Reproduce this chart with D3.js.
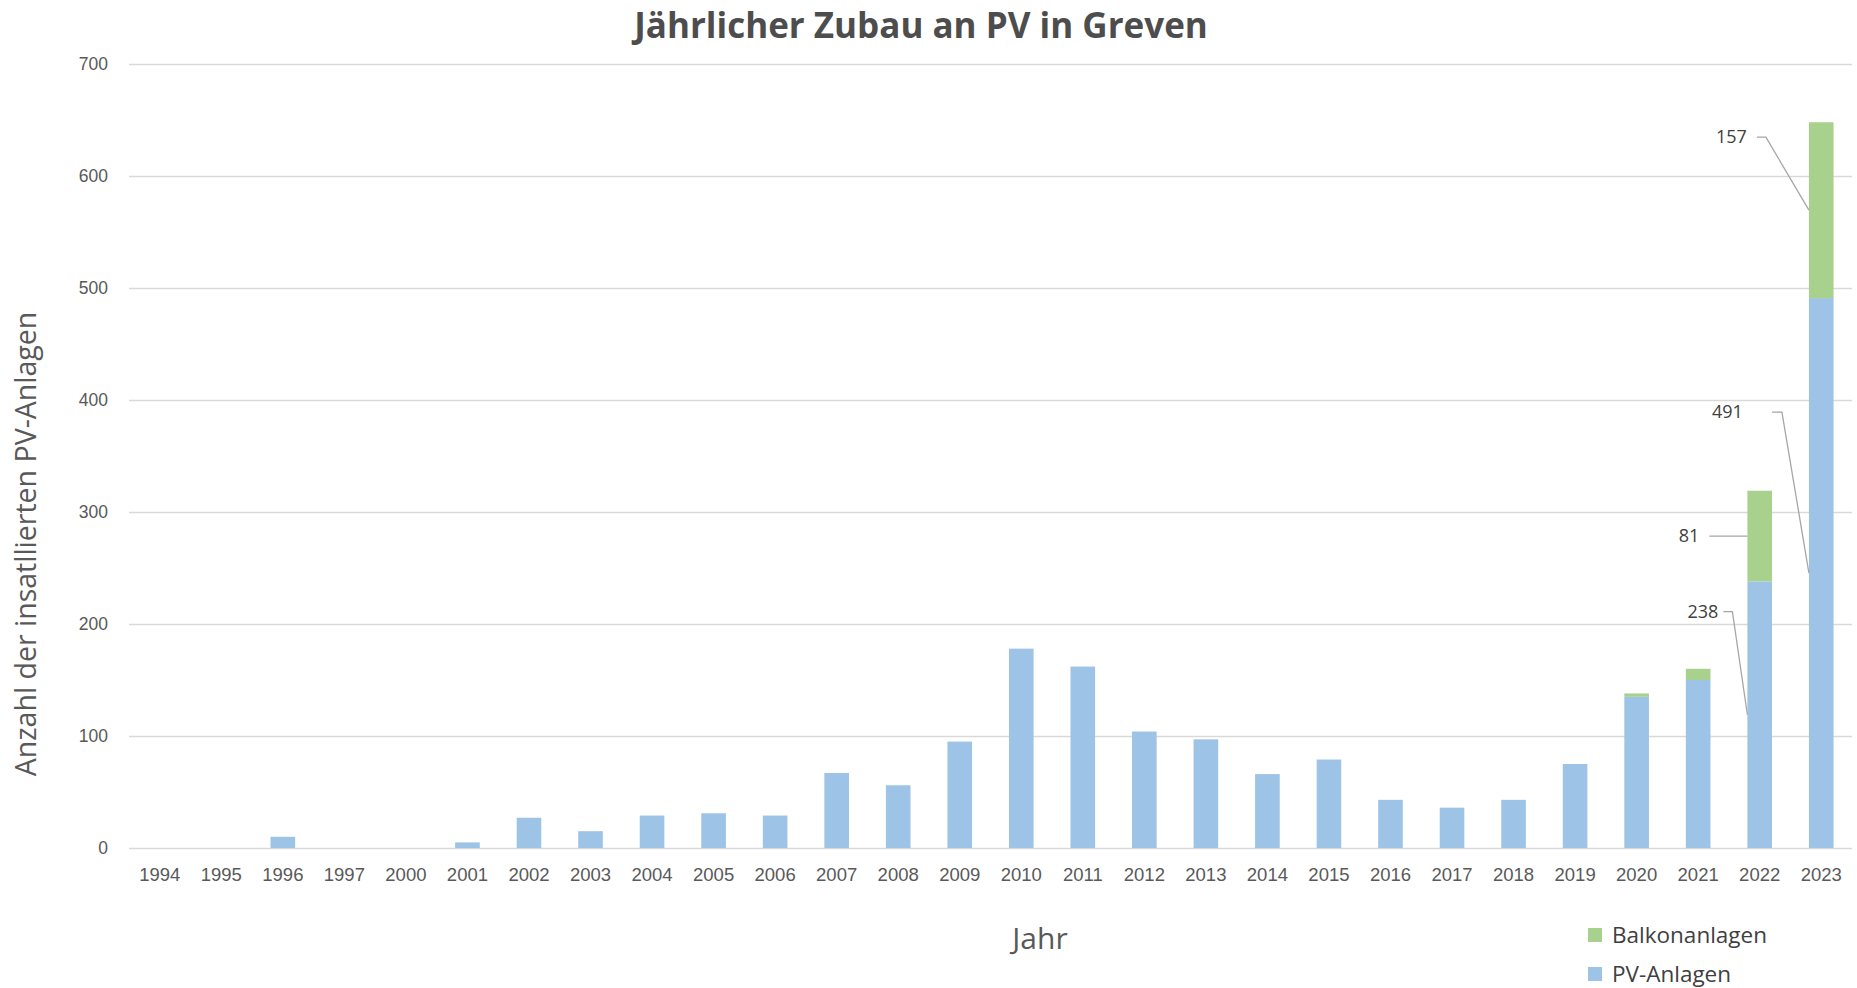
<!DOCTYPE html>
<html>
<head>
<meta charset="utf-8">
<script src="https://cdn.jsdelivr.net/npm/d3@7"></script>
<style>
  html, body { margin: 0; padding: 0; background: #fff; }
  svg { display: block; font-family: "Open Sans", sans-serif; }
  .grid line { stroke: #d9d9d9; stroke-width: 1.5; }
  .grid path { display: none; }
  .tick text { fill: #595959; }
</style>
</head>
<body>
<div id="chart"></div>
<script>
// Jahre (Kategorien)
var years = ["1994", "1995", "1996", "1997", "2000", "2001", "2002", "2003", "2004", "2005",
  "2006", "2007", "2008", "2009", "2010", "2011", "2012", "2013", "2014", "2015",
  "2016", "2017", "2018", "2019", "2020", "2021", "2022", "2023"];
var pvAnlagen = [0, 0, 10, 0, 0, 5, 27, 15, 29, 31,
  29, 67, 56, 95, 178, 162, 104, 97, 66, 79,
  43, 36, 43, 75, 135, 150, 238, 491];
var balkonanlagen = [0, 0, 0, 0, 0, 0, 0, 0, 0, 0,
  0, 0, 0, 0, 0, 0, 0, 0, 0, 0,
  0, 0, 0, 0, 3, 10, 81, 157];
var yTicks = [0, 100, 200, 300, 400, 500, 600, 700];
var labelledYears = ["2022", "2023"];

var W = 1857, H = 988;
var margin = {top: 64, right: 5, bottom: 140, left: 129};

var svg = d3.select("#chart").append("svg")
  .attr("width", W)
  .attr("height", H);

var x = d3.scaleBand()
  .domain(years)
  .range([margin.left, W - margin.right])
  .paddingInner(0.6)
  .paddingOuter(0.3);

var y = d3.scaleLinear()
  .domain([0, 700])
  .range([H - margin.bottom, margin.top]);

var series = [
  {key: "pv", name: "PV-Anlagen", values: pvAnlagen, color: "#9dc3e6"},
  {key: "balkon", name: "Balkonanlagen", values: balkonanlagen, color: "#a9d18e"}
];

var table = years.map(function (yr, i) {
  return {year: yr, pv: pvAnlagen[i], balkon: balkonanlagen[i]};
});
var stacked = d3.stack().keys(["pv", "balkon"])(table);

// Gitternetz
svg.append("g")
  .attr("class", "grid")
  .attr("transform", "translate(" + margin.left + ",0)")
  .call(d3.axisLeft(y).tickValues(yTicks).tickSize(-(W - margin.right - margin.left)).tickFormat(""));

// y-Achse Beschriftung
svg.append("g")
  .attr("transform", "translate(" + margin.left + ",0)")
  .call(d3.axisLeft(y).tickValues(yTicks).tickSize(0).tickPadding(21))
  .call(function (g) { g.select(".domain").remove(); })
  .selectAll("text")
    .style("font-size", "17.5px");

// x-Achse
svg.append("g")
  .attr("transform", "translate(0," + (H - margin.bottom) + ")")
  .call(d3.axisBottom(x).tickSize(0).tickPadding(20))
  .call(function (g) { g.select(".domain").remove(); })
  .selectAll("text")
    .style("font-size", "18.5px");

// Balken
svg.append("g")
  .selectAll("g")
  .data(stacked)
  .enter().append("g")
    .attr("fill", function (d, i) { return series[i].color; })
  .selectAll("rect")
  .data(function (d) { return d; })
  .enter().append("rect")
    .attr("x", function (d) { return x(d.data.year); })
    .attr("y", function (d) { return y(d[1]); })
    .attr("width", x.bandwidth())
    .attr("height", function (d) { return y(d[0]) - y(d[1]); });

// Datenbeschriftungen mit Führungslinien
var leaderStyle = {
  "2022pv": {elbow: [-15, -103], start: -24, text: -29},
  "2022balkon": {elbow: [-30, 0], start: -38, text: -48},
  "2023pv": {elbow: [-27, -161], start: -37, text: -66},
  "2023balkon": {elbow: [-43, -73], start: -52, text: -62}
};
var labelLayer = svg.append("g");
stacked.forEach(function (layer) {
  layer.forEach(function (d) {
    if (labelledYears.indexOf(d.data.year) < 0) { return; }
    var s = leaderStyle[d.data.year + layer.key];
    var ex = x(d.data.year);
    var ey = y((d[0] + d[1]) / 2);
    var elbowX = ex + s.elbow[0], elbowY = ey + s.elbow[1];
    labelLayer.append("path")
      .attr("d", "M" + (ex + s.start) + "," + elbowY + "L" + elbowX + "," + elbowY + "L" + ex + "," + ey)
      .attr("fill", "none")
      .attr("stroke", "#a6a6a6")
      .attr("stroke-width", 1.3);
    labelLayer.append("text")
      .attr("x", ex + s.text)
      .attr("y", elbowY)
      .attr("dy", "0.35em")
      .attr("text-anchor", "end")
      .style("font-size", "18px")
      .style("fill", "#404040")
      .text(d.data[layer.key]);
  });
});

// Titel
svg.append("text")
  .attr("x", 921)
  .attr("y", 38)
  .attr("text-anchor", "middle")
  .style("font-size", "35px")
  .style("font-weight", "bold")
  .style("fill", "#4d4d4d")
  .text("Jährlicher Zubau an PV in Greven");

// Achsentitel
svg.append("text")
  .attr("transform", "translate(26," + ((margin.top + H - margin.bottom) / 2 + 88) + ") rotate(-90)")
  .attr("text-anchor", "middle")
  .attr("dy", "0.35em")
  .style("font-size", "28.5px")
  .style("fill", "#595959")
  .text("Anzahl der insatllierten PV-Anlagen");

svg.append("text")
  .attr("x", 1040)
  .attr("y", 938)
  .attr("dy", "0.35em")
  .attr("text-anchor", "middle")
  .style("font-size", "30px")
  .style("fill", "#595959")
  .text("Jahr");

// Legende
var legend = svg.append("g")
  .attr("transform", "translate(1588,935)")
  .selectAll("g")
  .data(series.slice().reverse())
  .enter().append("g")
    .attr("transform", function (d, i) { return "translate(0," + (i * 39) + ")"; });
legend.append("rect")
  .attr("y", -7)
  .attr("width", 14)
  .attr("height", 14)
  .attr("fill", function (d) { return d.color; });
legend.append("text")
  .attr("x", 24)
  .attr("dy", "0.35em")
  .style("font-size", "22.5px")
  .style("fill", "#404040")
  .text(function (d) { return d.name; });
</script>
</body>
</html>
